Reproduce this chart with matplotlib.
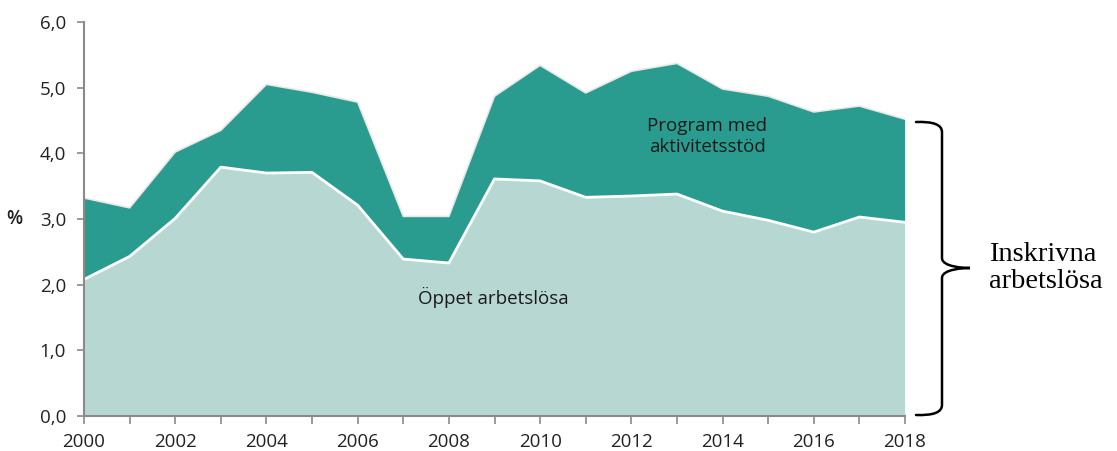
import numpy as np
import matplotlib
matplotlib.use("Agg")
import matplotlib.pyplot as plt
from matplotlib.path import Path
from matplotlib.patches import PathPatch
from matplotlib.ticker import FuncFormatter, MultipleLocator

years = list(range(2000, 2019))
oppet = [2.08, 2.43, 3.01, 3.79, 3.70, 3.71, 3.21, 2.39, 2.33, 3.61,
         3.58, 3.33, 3.35, 3.38, 3.12, 2.98, 2.80, 3.03, 2.95]
totalt = [3.32, 3.17, 4.02, 4.35, 5.05, 4.93, 4.78, 3.04, 3.04, 4.87,
          5.34, 4.92, 5.25, 5.37, 4.98, 4.87, 4.63, 4.72, 4.52]
program = [t - o for t, o in zip(totalt, oppet)]

light = '#b7d7d3'
teal = '#2a9c8f'
grey = '#8a8a8a'

plt.rcParams['font.family'] = ['Open Sans', 'DejaVu Sans']

fig = plt.figure(figsize=(11.17, 4.51), dpi=100)
ax = fig.add_axes([84 / 1117, 35 / 451, (905 - 84) / 1117, (416 - 22) / 451])

ax.stackplot(years, oppet, program, colors=[light, teal], linewidth=0)
ax.plot(years, oppet, color='white', lw=2)
ax.plot(years, totalt, color='#e8e8e8', lw=1.2)

ax.set_xlim(2000, 2018)
ax.set_ylim(0, 6)
ax.xaxis.set_major_locator(MultipleLocator(2))
ax.xaxis.set_minor_locator(MultipleLocator(1))
ax.yaxis.set_major_locator(MultipleLocator(1))
ax.yaxis.set_major_formatter(FuncFormatter(lambda v, p: f'{v:.1f}'.replace('.', ',')))

for s in ['top', 'right']:
    ax.spines[s].set_visible(False)
for s in ['left', 'bottom']:
    ax.spines[s].set_color(grey)
    ax.spines[s].set_linewidth(1.5)
ax.tick_params(axis='both', which='both', color=grey, width=1.2, labelsize=13.5,
               labelcolor='#222222', direction='out')
ax.tick_params(axis='x', which='both', length=6, pad=6)
ax.tick_params(axis='y', length=5, pad=8)

ax.text(-0.085, 0.5, '%', transform=ax.transAxes, ha='center', va='center',
        fontsize=13.5, color='#222222', fontweight='semibold')

ax.text(2013.66, 4.26, 'Program med\naktivitetsstöd', ha='center', va='center',
        fontsize=13.5, color='#1a1a1a', linespacing=1.2)
ax.text(2008.97, 1.80, 'Öppet arbetslösa', ha='center', va='center',
        fontsize=13.5, color='#1a1a1a')

# brace on the right side (figure pixel coordinates)
W, H = 1117, 451
def fp(x, y):
    return (x / W, 1 - y / H)

top, mid, bot = 122, 268, 415
xe, xv, xt = 916, 942, 970
verts = [fp(xe, top), fp(xv, top - 1), fp(xv, top + 10),
         fp(xv, mid - 10),
         fp(xv, mid - 1), fp(xt - 6, mid), fp(xt, mid),
         fp(xt - 6, mid), fp(xv, mid + 1), fp(xv, mid + 10),
         fp(xv, bot - 10),
         fp(xv, bot + 1), fp(xe, bot)]
codes = [Path.MOVETO, Path.CURVE3, Path.CURVE3,
         Path.LINETO,
         Path.CURVE4, Path.CURVE4, Path.CURVE4,
         Path.CURVE4, Path.CURVE4, Path.CURVE4,
         Path.LINETO,
         Path.CURVE3, Path.CURVE3]
fig.patches.append(PathPatch(Path(verts, codes), transform=fig.transFigure,
                             fill=False, lw=1.8, color='black', capstyle='round'))

fig.text(989 / W, 1 - 268 / H, 'Inskrivna\narbetslösa', ha='left', va='center',
         fontsize=20.5, family=['Liberation Serif', 'DejaVu Serif'], color='black',
         linespacing=1.15, multialignment='left')

fig.savefig('out.png', dpi=100)
